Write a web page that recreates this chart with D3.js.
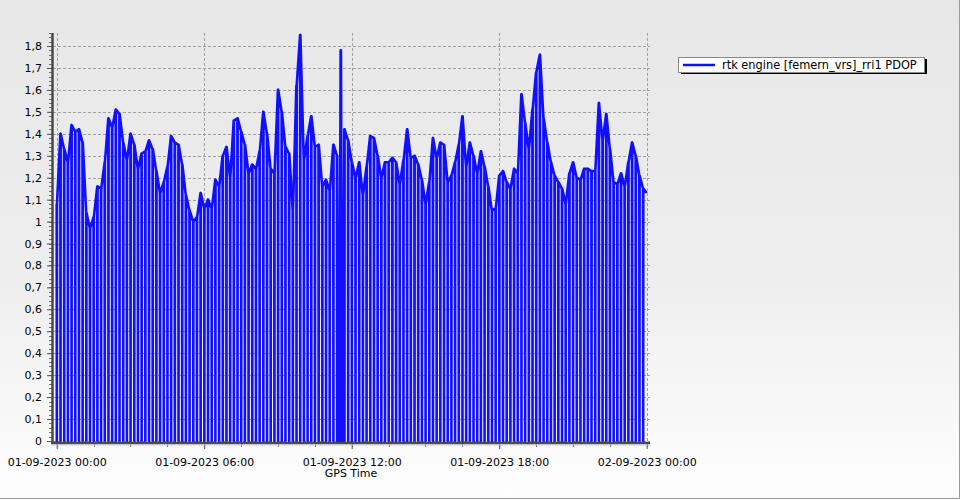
<!DOCTYPE html>
<html>
<head>
<meta charset="utf-8">
<script src="https://cdn.jsdelivr.net/npm/d3@7/dist/d3.min.js"></script>
<style>
  html, body { margin: 0; padding: 0; }
  body { width: 960px; height: 500px; overflow: hidden; }
  svg { display: block; }
  text { font-family: "DejaVu Sans", sans-serif; fill: #000; }
</style>
</head>
<body>
<svg id="chart" width="960" height="500"></svg>
<script>
// ---------------- DATA ----------------
const seriesName = "rtk engine [femern_vrs]_rri1 PDOP";
const xAxisTitle = "GPS Time";
const startTime = new Date(2023, 8, 1, 0, 0);   // 01-09-2023 00:00
const endTime   = new Date(2023, 8, 2, 0, 0);   // 02-09-2023 00:00
const epochMinutes = 9;                          // spacing of PDOP epochs
// PDOP per epoch, each epoch followed by a zero reading
const pdop = [
  1.08, 1.40, 1.33, 1.27, 1.44, 1.41, 1.42, 1.36, 1.04, 0.97,
  1.02, 1.16, 1.15, 1.27, 1.47, 1.43, 1.51, 1.49, 1.36, 1.28,
  1.40, 1.35, 1.24, 1.31, 1.32, 1.37, 1.33, 1.23, 1.13, 1.18,
  1.25, 1.39, 1.36, 1.35, 1.26, 1.12, 1.05, 1.00, 1.02, 1.13,
  1.06, 1.10, 1.06, 1.19, 1.16, 1.30, 1.34, 1.20, 1.46, 1.47,
  1.41, 1.35, 1.22, 1.26, 1.24, 1.32, 1.50, 1.40, 1.24, 1.22,
  1.60, 1.50, 1.34, 1.31, 1.05, 1.62, 1.85, 1.28, 1.39, 1.48,
  1.34, 1.35, 1.16, 1.19, 1.14, 1.35, 1.30, 1.78, 1.42, 1.37,
  1.27, 1.20, 1.27, 1.12, 1.25, 1.39, 1.38, 1.30, 1.20, 1.27,
  1.27, 1.29, 1.27, 1.17, 1.28, 1.42, 1.29, 1.30, 1.26, 1.19,
  1.08, 1.18, 1.38, 1.29, 1.36, 1.35, 1.18, 1.21, 1.27, 1.35,
  1.48, 1.25, 1.36, 1.30, 1.22, 1.32, 1.25, 1.16, 1.05, 1.06,
  1.21, 1.23, 1.18, 1.15, 1.24, 1.22, 1.58, 1.45, 1.33, 1.51,
  1.68, 1.76, 1.47, 1.36, 1.27, 1.21, 1.18, 1.15, 1.08, 1.22,
  1.27, 1.20, 1.19, 1.24, 1.24, 1.23, 1.23, 1.54, 1.37, 1.49,
  1.33, 1.18, 1.17, 1.22, 1.16, 1.27, 1.36, 1.30, 1.21, 1.15,
  1.13
];
// extra zero readings (hours after start) in the dense dropout around 11:30
const extraZeroHours = [11.45, 11.50, 11.56, 11.62, 11.66];
const yTickValues = [0,0.1,0.2,0.3,0.4,0.5,0.6,0.7,0.8,0.9,1,1.1,1.2,1.3,1.4,1.5,1.6,1.7,1.8];
const yTickLabels = ["0","0,1","0,2","0,3","0,4","0,5","0,6","0,7","0,8","0,9","1","1,1","1,2","1,3","1,4","1,5","1,6","1,7","1,8"];
const xTickHours = [0, 6, 12, 18, 24];
const xTickLabels = ["01-09-2023 00:00","01-09-2023 06:00","01-09-2023 12:00","01-09-2023 18:00","02-09-2023 00:00"];

// ---------------- LAYOUT ----------------
const svg = d3.select("#chart");
const W = 960, H = 500;
const plotLeft = 53, plotRight = 650, plotTop = 33, plotBottom = 443;
const HOUR = 3600 * 1000;

const x = d3.scaleTime().domain([startTime, endTime]).range([56.7, 646.7]);
const y = d3.scaleLinear().domain([0, 1.8]).range([441, 46]);

// background gradient
const defs = svg.append("defs");
const grad = defs.append("linearGradient").attr("id", "bg").attr("x1", 0).attr("y1", 0).attr("x2", 0).attr("y2", 1);
grad.append("stop").attr("offset", "0%").attr("stop-color", "#e7e7e7");
grad.append("stop").attr("offset", "55%").attr("stop-color", "#eeeeee");
grad.append("stop").attr("offset", "100%").attr("stop-color", "#fefefe");
svg.append("rect").attr("width", W).attr("height", H).attr("fill", "url(#bg)");
// outer frame (right and bottom)
svg.append("path").attr("d", `M${W - 0.5},0 V${H - 1.5} H0`).attr("fill", "none").attr("stroke", "#9a9a9a").attr("stroke-width", 1);

// grid
const grid = svg.append("g");
grid.selectAll("line.h").data(yTickValues).join("line")
  .attr("x1", plotLeft).attr("x2", plotRight)
  .attr("y1", d => Math.round(y(d)) + 0.5).attr("y2", d => Math.round(y(d)) + 0.5)
  .attr("stroke", "#a0a0a0").attr("stroke-dasharray", "3,2");
grid.selectAll("line.v").data(xTickHours).join("line")
  .attr("x1", d => Math.round(x(new Date(+startTime + d * HOUR))) + 0.5)
  .attr("x2", d => Math.round(x(new Date(+startTime + d * HOUR))) + 0.5)
  .attr("y1", plotTop).attr("y2", plotBottom)
  .attr("stroke", "#a0a0a0").attr("stroke-dasharray", "3,2");

// series points: each epoch followed by a zero reading
const d = 0.35 * 60 * 1000;
const pts = [];
pdop.forEach((v, i) => {
  const t = +startTime + i * epochMinutes * 60 * 1000;
  pts.push({ t, v });
  if (i < pdop.length - 1) {
    pts.push({ t: t + d, v: 0 });
    pts.push({ t: t + 2 * d, v });
  }
});
extraZeroHours.forEach(h => pts.push({ t: +startTime + h * HOUR, v: 0 }));
pts.sort((a, b) => a.t - b.t);

const line = d3.line().x(p => x(new Date(p.t))).y(p => y(p.v));
svg.append("path").datum(pts)
  .attr("d", line)
  .attr("fill", "none")
  .attr("stroke", "#1010ff")
  .attr("stroke-width", 2.6)
  .attr("stroke-linejoin", "round");

// y axis
const yAxisG = svg.append("g").attr("transform", `translate(${plotLeft - 1},0)`);
const yMinor = d3.range(0, 1.861, 0.02);
yAxisG.selectAll("line.minor").data(yMinor).join("line")
  .attr("x1", -3).attr("x2", 0)
  .attr("y1", v => Math.round(y(v)) + 0.5).attr("y2", v => Math.round(y(v)) + 0.5)
  .attr("stroke", "#707070");
const yAx = d3.axisLeft(y).tickValues(yTickValues).tickFormat((v, i) => yTickLabels[i]).tickSize(5).tickPadding(5);
yAxisG.call(yAx);
yAxisG.select(".domain").remove();
yAxisG.selectAll(".tick line").attr("stroke", "#555");
yAxisG.selectAll(".tick text").attr("font-size", 11).attr("font-family", "DejaVu Sans").attr("fill", "#000");
svg.append("line").attr("x1", plotLeft - 0.5).attr("x2", plotLeft - 0.5).attr("y1", plotTop).attr("y2", plotBottom + 1)
  .attr("stroke", "#4a4a4a").attr("stroke-width", 2.5);

// x axis
const xAxisG = svg.append("g").attr("transform", `translate(0,${plotBottom + 1})`);
const xMinor = d3.range(0, 24.01, 1.5);
xAxisG.selectAll("line.minor").data(xMinor).join("line")
  .attr("x1", h => Math.round(x(new Date(+startTime + h * HOUR))) + 0.5)
  .attr("x2", h => Math.round(x(new Date(+startTime + h * HOUR))) + 0.5)
  .attr("y1", 0).attr("y2", 3).attr("stroke", "#707070");
const xAx = d3.axisBottom(x)
  .tickValues(xTickHours.map(h => new Date(+startTime + h * HOUR)))
  .tickFormat((v, i) => xTickLabels[i]).tickSize(5).tickPadding(9);
xAxisG.call(xAx);
xAxisG.select(".domain").remove();
xAxisG.selectAll(".tick line").attr("stroke", "#555");
xAxisG.selectAll(".tick text").attr("font-size", 11).attr("font-family", "DejaVu Sans").attr("fill", "#000");
svg.append("line").attr("x1", plotLeft - 2).attr("x2", plotRight).attr("y1", plotBottom).attr("y2", plotBottom)
  .attr("stroke", "#4a4a4a").attr("stroke-width", 2.5);
svg.append("line").attr("x1", plotLeft - 2).attr("x2", plotRight).attr("y1", plotBottom + 2).attr("y2", plotBottom + 2)
  .attr("stroke", "#c8c8c8").attr("stroke-width", 1);

svg.append("text").attr("x", 351).attr("y", 477).attr("text-anchor", "middle")
  .attr("font-size", 11).text(xAxisTitle);

// legend
const lg = svg.append("g");
lg.append("rect").attr("x", 681).attr("y", 59).attr("width", 246).attr("height", 15).attr("fill", "#000");
lg.append("rect").attr("x", 678.5).attr("y", 57.5).attr("width", 246).attr("height", 15)
  .attr("fill", "#fff").attr("stroke", "#888");
lg.append("line").attr("x1", 683).attr("x2", 715).attr("y1", 65).attr("y2", 65)
  .attr("stroke", "#1010ff").attr("stroke-width", 2.5);
const lt = lg.append("text").attr("x", 722).attr("y", 69).attr("font-size", 11).text(seriesName);
const tw = lt.node().getComputedTextLength();
if (tw > 0) lt.attr("font-size", (11 * 195 / tw).toFixed(2));
</script>
</body>
</html>
